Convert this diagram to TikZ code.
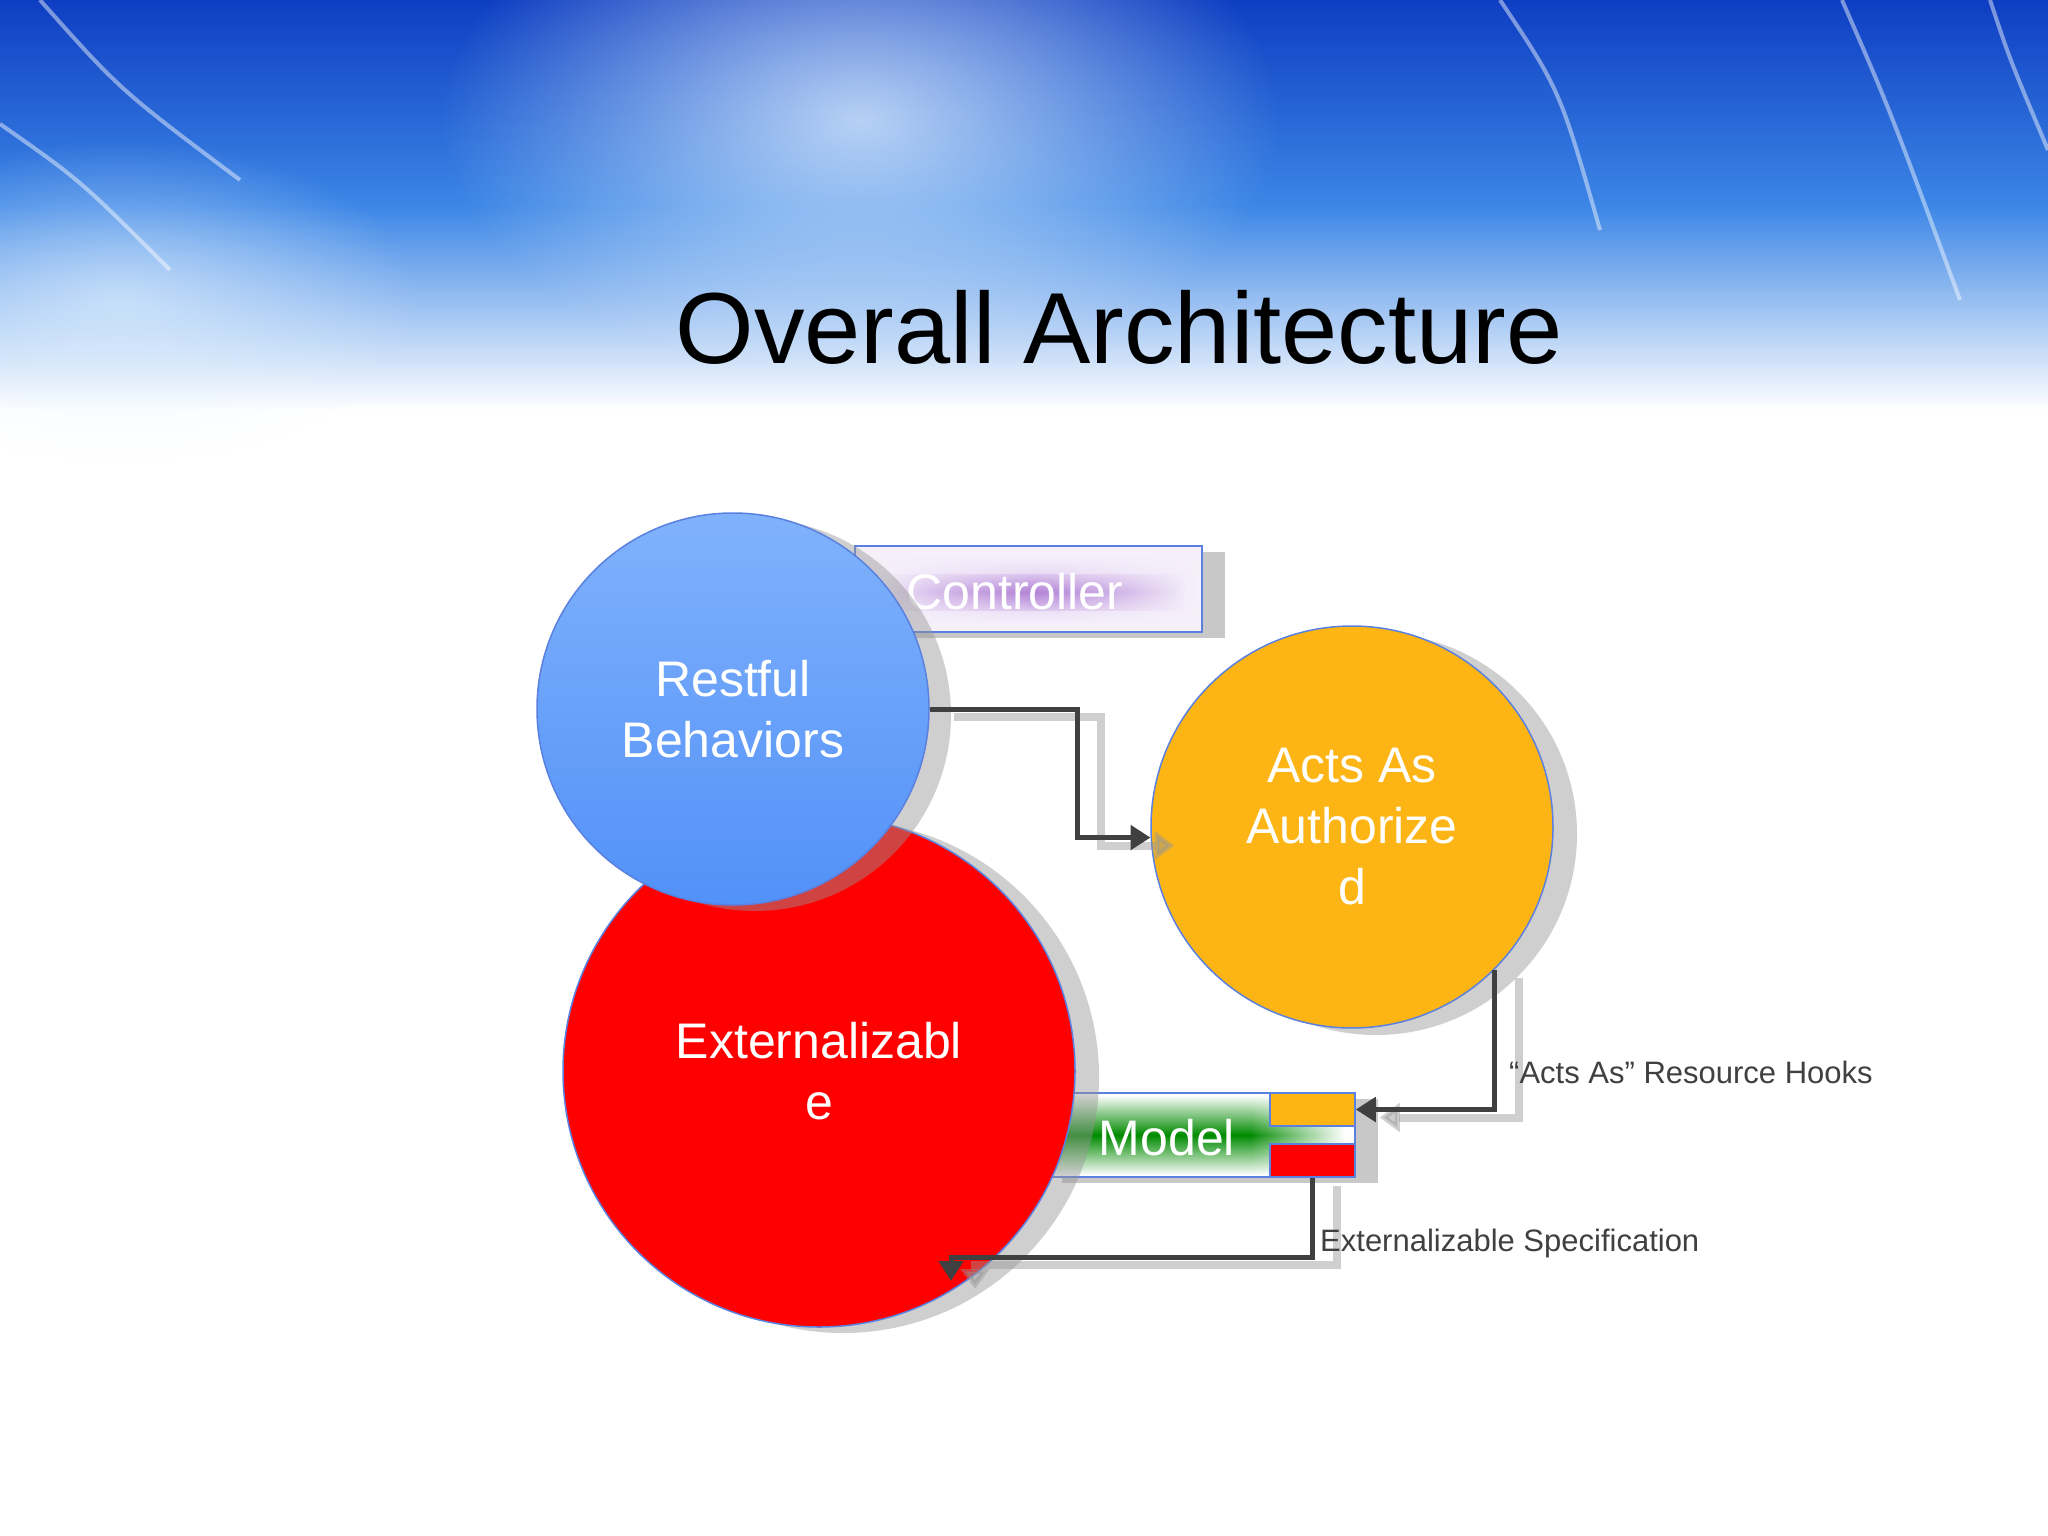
\documentclass[tikz,border=0pt]{standalone}
\usepackage{fontspec}
\setmainfont{Liberation Sans}
\usetikzlibrary{arrows.meta,fadings,shadings}
\definecolor{bluetop}{HTML}{80B2FC}
\definecolor{bluebot}{HTML}{5291F8}
\definecolor{edgeblue}{HTML}{5A80E0}
\definecolor{orangefill}{HTML}{FDB515}
\definecolor{redfill}{HTML}{FF0000}
\definecolor{conncol}{HTML}{404040}
\definecolor{shadowgray}{HTML}{969696}
\definecolor{lightsh}{HTML}{C8C8C8}
\definecolor{ctrlpurple}{HTML}{B383D6}
\definecolor{ctrlmid}{HTML}{DCC6EE}
\definecolor{ctrlbg}{HTML}{F6F0FB}
\definecolor{modelgreen}{HTML}{008A00}
\definecolor{bgblue}{HTML}{0E3EC2}
\definecolor{bgmid}{HTML}{3C86E6}
\definecolor{bglight}{HTML}{E6F4FF}
\tikzfading[name=hends, left color=transparent!100, right color=transparent!100, middle color=transparent!0]
\tikzfading[name=softglow, inner color=transparent!0, outer color=transparent!100]
\tikzset{
  circshadow/.style={fill=shadowgray, fill opacity=0.45, draw=none},
  boxshadow/.style={fill=lightsh, draw=none},
  conn/.style={draw=conncol, line width=5pt, -{Triangle[length=20pt,width=24pt]}},
  connshadow/.style={draw=shadowgray, line width=8pt, opacity=0.45, -{Triangle[length=20pt,width=28pt]}},
  bigtext/.style={text=white, font=\fontsize{50}{61}\selectfont, align=center},
  lbl/.style={text=conncol, font=\fontsize{31}{37}\selectfont, anchor=west, inner sep=0pt},
  bubble/.style={circle, draw=edgeblue, line width=1.5pt, inner sep=0pt},
  plainbox/.style={draw=edgeblue, line width=2pt, inner sep=0pt},
  streak/.style={draw=white, opacity=0.45, line width=4pt},
}
\begin{document}
\begin{tikzpicture}[x=1pt,y=-1pt]
\useasboundingbox (0,0) rectangle (2048,1536);
\fill[white] (0,0) rectangle (2048,1536);
% banner background
\shade[top color=bgblue, bottom color=white, middle color=bgmid] (0,0) rectangle (2048,410);
\fill[bglight, fill opacity=0.75, path fading=softglow] (860,120) ellipse [x radius=420pt, y radius=260pt];
\fill[bglight, fill opacity=0.6, path fading=softglow] (120,300) ellipse [x radius=300pt, y radius=160pt];
\draw[streak] (1842,0) .. controls (1890,110) .. (1960,300);
\draw[streak] (1990,0) .. controls (2010,60) .. (2048,150);
\draw[streak] (0,124) .. controls (80,180) .. (170,270);
\draw[streak] (1500,0) .. controls (1560,90) .. (1600,230);
\draw[streak] (40,0) .. controls (120,90) .. (240,180);
% title
\node[font=\fontsize{101}{121}\selectfont] (title) at (1119,327) {Overall Architecture};

% controller box
\fill[boxshadow] (878,552) rectangle (1225,638);
\node[plainbox, fill=ctrlbg, minimum width=347pt, minimum height=86pt] (ctrl) at (1028.5,589) {};
\shade[top color=ctrlbg, bottom color=ctrlbg, middle color=ctrlmid, path fading=hends] (870,556) rectangle (1198,624);
\shade[top color=ctrlmid, bottom color=ctrlmid, middle color=ctrlpurple, path fading=hends] (880,574) rectangle (1185,610);
\node[bigtext] (ctrltxt) at (1015,592) {Controller};

% model box
\fill[boxshadow] (1062,1099) rectangle (1378,1183);
\node[plainbox, fill=white, minimum width=315pt, minimum height=84pt] (model) at (1197.5,1135) {};
\shade[top color=white, bottom color=white, middle color=modelgreen] (1041,1095) rectangle (1252,1175);
\shade[top color=white, bottom color=white, middle color=modelgreen, path fading=east] (1250,1095) rectangle (1345,1175);
\node[plainbox, line width=1.5pt, fill=orangefill, minimum width=85pt, minimum height=33pt] (ors) at (1312.5,1109.5) {};
\node[plainbox, line width=1.5pt, fill=redfill, minimum width=85pt, minimum height=33pt] (rs) at (1312.5,1160.5) {};
\node[bigtext] (modeltxt) at (1167,1138) {Model};

% red circle
\fill[circshadow] (843,1077) circle[radius=256pt];
\node[bubble, fill=redfill, minimum size=512pt, bigtext] (ext) at (819,1071) {Externalizabl\\e};

% blue circle
\fill[circshadow] (755,715) circle[radius=196pt];
\node[bubble, top color=bluetop, bottom color=bluebot, minimum size=392pt, bigtext] (rb) at (733,709) {Restful\\Behaviors};

% orange circle
\fill[circshadow] (1376,834) circle[radius=201pt];
\node[bubble, fill=orangefill, minimum size=402pt, bigtext] (aa) at (1352,827) {Acts As\\Authorize\\d};

% connectors
\coordinate (k1) at (1077,770);
\coordinate (k3) at (951,1257);
\coordinate (t3) at (951,1281);
\begin{scope}[transform canvas={shift={(24pt,-8pt)}}]
  \draw[connshadow] (rb.east) -| (k1) |- (aa.183);
  \draw[connshadow] (aa.315) |- (ors.east);
  \draw[connshadow] (rs.south) |- (k3) -- (t3);
\end{scope}
\draw[conn] (rb.east) -| (k1) |- (aa.183);
\draw[conn] (aa.315) |- (ors.east);
\draw[conn] (rs.south) |- (k3) -- (t3);

% labels
\node[lbl] (hooks) at (1509,1072) {“Acts As” Resource Hooks};
\node[lbl] (spec) at (1320,1243) {Externalizable Specification};
\end{tikzpicture}
\end{document}
